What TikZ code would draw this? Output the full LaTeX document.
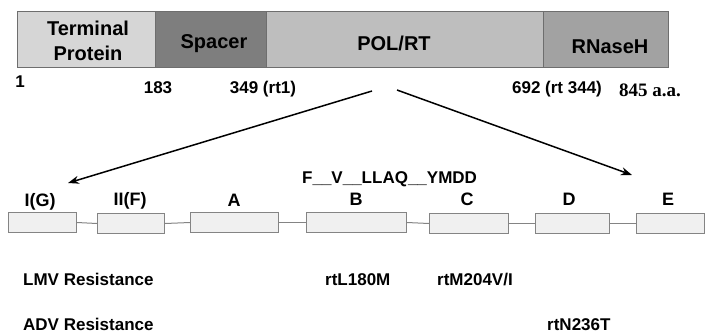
\documentclass[tikz,border=0pt]{standalone}
\usepackage{fontspec}
\setmainfont{Liberation Sans}
\newfontfamily\serifbold{Liberation Serif}
\usetikzlibrary{arrows.meta}
\definecolor{tpgray}{HTML}{D6D6D6}
\definecolor{spgray}{HTML}{7E7E7E}
\definecolor{rtgray}{HTML}{BEBEBE}
\definecolor{rhgray}{HTML}{A2A2A2}
\definecolor{edgegray}{HTML}{6E6E6E}
\definecolor{motiffill}{HTML}{F0F0F0}
\tikzset{
  domainbox/.style={draw=edgegray, line width=1pt, minimum height=56pt, inner sep=0pt, anchor=north west},
  motifbox/.style={draw=edgegray!85, fill=motiffill, line width=1pt, minimum height=20pt, inner sep=0pt, anchor=north west},
  linkline/.style={draw=edgegray!85, line width=1pt},
  bigtext/.style={font=\bfseries\fontsize{20}{25}\selectfont, anchor=base, inner sep=0pt, align=center},
  midtext/.style={font=\bfseries\fontsize{17}{20}\selectfont, anchor=base, inner sep=0pt},
  motiflabel/.style={font=\bfseries\fontsize{18}{20}\selectfont, anchor=base, inner sep=0pt},
  zoomarrow/.style={line width=1.5pt, -{Stealth[length=11pt,width=8pt]}}
}
\begin{document}
\begin{tikzpicture}[x=1pt,y=-1pt]
\useasboundingbox (0,0) rectangle (708,335);

% protein domains
\node[domainbox, fill=tpgray, minimum width=138pt] (tp) at (17,11) {};
\node[domainbox, fill=spgray, minimum width=111pt] (sp) at (155,11) {};
\node[domainbox, fill=rtgray, minimum width=277pt] (rt) at (266,11) {};
\node[domainbox, fill=rhgray, minimum width=125pt] (rh) at (543,11) {};

\node[bigtext] (tpl1) at (88,35) {Terminal};
\node[bigtext] (tpl2) at (88,60) {Protein};
\node[bigtext] (spl) at (214,48) {Spacer};
\node[bigtext] (rtl) at (394,50) {POL/RT};
\node[bigtext] (rhl) at (610,53) {RNaseH};

% residue positions
\node[midtext] (p1) at (20,87) {1};
\node[midtext] (p183) at (158,93) {183};
\node[midtext] (p349) at (263,93) {349 (rt1)};
\node[midtext] (p692) at (557,93) {692 (rt 344)};
\node[font=\serifbold\bfseries\fontsize{19}{22}\selectfont, anchor=base, inner sep=0pt] (p845) at (650,96) {845 a.a.};

% conserved motifs of the RT domain
\node[motifbox, minimum width=68pt] (mG) at (8,212) {};
\node[motifbox, minimum width=67pt] (mF) at (97,213) {};
\node[motifbox, minimum width=88pt] (mA) at (190,212) {};
\node[motifbox, minimum width=100pt] (mB) at (306,212) {};
\node[motifbox, minimum width=79pt] (mC) at (429,213) {};
\node[motifbox, minimum width=74pt] (mD) at (535,213) {};
\node[motifbox, minimum width=68pt] (mE) at (636,213) {};

\draw[linkline] (mG.east) -- (mF.west);
\draw[linkline] (mF.east) -- (mA.west);
\draw[linkline] (mA.east) -- (mB.west);
\draw[linkline] (mB.east) -- (mC.west);
\draw[linkline] (mC.east) -- (mD.west);
\draw[linkline] (mD.east) -- (mE.west);

\node[motiflabel] (lG) at (40,206) {I(G)};
\node[motiflabel] (lF) at (130,205) {II(F)};
\node[motiflabel] (lA) at (234,206) {A};
\node[motiflabel] (lB) at (356,205) {B};
\node[motiflabel] (lC) at (467,205) {C};
\node[motiflabel] (lD) at (569,205) {D};
\node[motiflabel] (lE) at (668,205) {E};

\node[midtext, anchor=base west] (seq) at (302,183) {F\_\_V\_\_LLAQ\_\_YMDD};

% expansion arrows
\coordinate (srcL) at (372,91);
\coordinate (srcR) at (397,90);
\coordinate (dstL) at (68,183);
\coordinate (dstR) at (632,175);
\draw[zoomarrow] (srcL) -- (dstL);
\draw[zoomarrow] (srcR) -- (dstR);

% resistance mutations
\node[midtext, anchor=base west] (lmv) at (23,285) {LMV Resistance};
\node[midtext, anchor=base west] (adv) at (23,330) {ADV Resistance};
\node[midtext, anchor=base west] (m180) at (325,285) {rtL180M};
\node[midtext, anchor=base west] (m204) at (437,285) {rtM204V/I};
\node[midtext, anchor=base west] (m236) at (547,330) {rtN236T};
\end{tikzpicture}
\end{document}
